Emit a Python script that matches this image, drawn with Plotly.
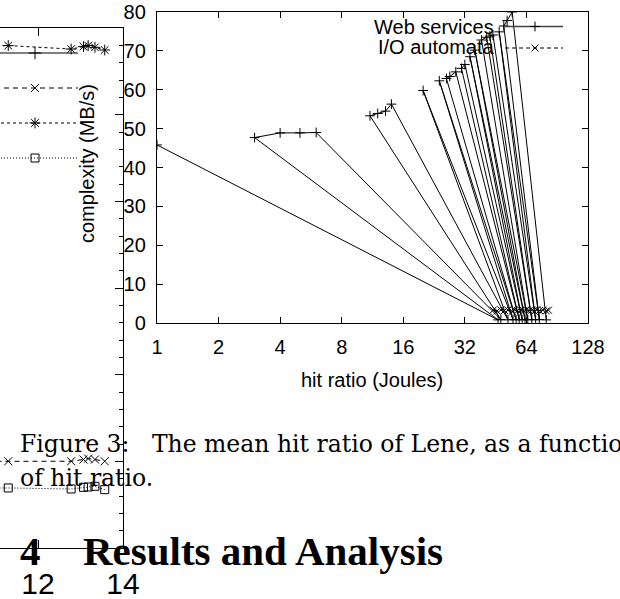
import plotly.graph_objects as go

W, H = 620, 599

# ---------------- Right chart (Figure 3) data ----------------
ws_x = [1.0, 46.5, 3.0, 4.0, 5.0, 6.0, 48.0, 11.0, 12.0, 13.1, 14.0, 52.0, 20.0, 55.0,
        24.0, 57.0, 26.0, 27.0, 28.9, 59.0, 30.8, 32.0, 61.0, 33.9, 63.0, 35.8, 65.0,
        38.6, 40.9, 68.0, 42.4, 43.9, 71.0, 47.1, 74.0, 49.6, 51.5, 54.5, 80.0]
ws_y = [45.8, 0.8, 47.7, 48.9, 48.9, 49.0, 0.9, 53.3, 53.9, 54.5, 56.3, 0.8, 59.8, 0.9,
        62.3, 0.8, 62.9, 63.4, 64.6, 0.9, 65.5, 66.5, 0.8, 68.5, 0.9, 70.2, 0.8,
        72.8, 73.5, 0.9, 73.8, 74.1, 0.8, 74.9, 0.9, 76.4, 77.8, 80.0, 0.8]

io_x = [44.0, 46.0, 48.0, 50.0, 52.0, 54.5, 56.0, 58.0, 60.0, 62.0, 64.0, 66.0,
        68.0, 70.0, 72.0, 74.0, 77.0, 80.0, 82.0]
io_y = [3.3, 3.1, 3.4, 3.2, 3.3, 3.0, 3.4, 3.2, 3.3, 3.1, 3.4, 3.2,
        3.3, 3.0, 3.4, 3.2, 3.3, 3.1, 3.3]

x_ticks = [1, 2, 4, 8, 16, 32, 64, 128]
x_tick_labels = ["1", "2", "4", "8", "16", "32", "64", "128"]

# ---------------- Left (partially visible) chart data ----------------
lf_x = [11.30, 12.78, 13.07, 13.18, 13.34, 13.57]
lf_star = [57.97, 57.57, 57.85, 57.97, 57.77, 57.46]
lf_cross = [10.01, 10.01, 10.21, 10.32, 10.21, 10.01]
lf_box = [6.93, 6.81, 7.00, 7.04, 7.12, 6.73]
lf_x_ticks = [12, 14]

# legend/key sample rows (page pixel rows)
key_rows = [53, 88, 123, 158]

SANS = "Liberation Sans, Arial, sans-serif"
SERIF = "DejaVu Serif, serif"
SERIF_B = "Liberation Serif, Times New Roman, serif"

fig = go.Figure()

# right chart traces
fig.add_trace(go.Scatter(
    x=ws_x, y=ws_y, mode="lines+markers", xaxis="x", yaxis="y",
    line=dict(color="black", width=1),
    marker=dict(symbol="cross-thin", size=7, color="black", line=dict(color="black", width=1)),
    showlegend=False))
fig.add_trace(go.Scatter(
    x=io_x, y=io_y, mode="lines+markers", xaxis="x", yaxis="y",
    line=dict(color="black", width=1, dash="4px,3px"),
    marker=dict(symbol="x-thin", size=7, color="black", line=dict(color="black", width=1)),
    showlegend=False))

# left chart traces
fig.add_trace(go.Scatter(
    x=[10.6] + lf_x, y=[57.9] + lf_star, mode="lines+markers", xaxis="x2", yaxis="y2",
    line=dict(color="black", width=1, dash="3px,3px"),
    marker=dict(symbol="asterisk-open", size=9, color="black", line=dict(color="black", width=1)),
    showlegend=False))
fig.add_trace(go.Scatter(
    x=[10.6] + lf_x, y=[10.0] + lf_cross, mode="lines+markers", xaxis="x2", yaxis="y2",
    line=dict(color="black", width=1, dash="5px,4px"),
    marker=dict(symbol="x-thin", size=8, color="black", line=dict(color="black", width=1)),
    showlegend=False))
fig.add_trace(go.Scatter(
    x=[10.6] + lf_x, y=[6.9] + lf_box, mode="lines+markers", xaxis="x2", yaxis="y2",
    line=dict(color="black", width=1, dash="1px,2px"),
    marker=dict(symbol="square-open", size=8, color="black", line=dict(color="black", width=1)),
    showlegend=False))

# key samples (overlay in page pixel space)
key_styles = [
    ("solid", "cross-thin", 9),
    ("5px,4px", "x-thin", 8),
    ("3px,3px", "asterisk-open", 9),
    ("1px,2px", "square-open", 8),
]
for row, (dash, sym, sz) in zip(key_rows, key_styles):
    fig.add_trace(go.Scatter(x=[-5, 78], y=[row, row], mode="lines", xaxis="x3", yaxis="y3",
                             line=dict(color="black", width=1, dash=dash), showlegend=False))
    fig.add_trace(go.Scatter(x=[35], y=[row], mode="markers", xaxis="x3", yaxis="y3",
                             marker=dict(symbol=sym, size=sz, color="black",
                                         line=dict(color="black", width=1)), showlegend=False))

# right chart legend samples
fig.add_trace(go.Scatter(x=[505, 563], y=[26.5, 26.5], mode="lines", xaxis="x3", yaxis="y3",
                         line=dict(color="#444", width=1.3), showlegend=False))
fig.add_trace(go.Scatter(x=[535], y=[26.5], mode="markers", xaxis="x3", yaxis="y3",
                         marker=dict(symbol="cross-thin", size=7, color="black",
                                     line=dict(color="black", width=1)), showlegend=False))
fig.add_trace(go.Scatter(x=[505, 563], y=[48, 48], mode="lines", xaxis="x3", yaxis="y3",
                         line=dict(color="black", width=1, dash="4px,3px"), showlegend=False))
fig.add_trace(go.Scatter(x=[535], y=[48], mode="markers", xaxis="x3", yaxis="y3",
                         marker=dict(symbol="x-thin", size=7, color="black",
                                     line=dict(color="black", width=1)), showlegend=False))

axis_common = dict(showgrid=False, zeroline=False, showline=True, linecolor="black",
                   linewidth=1.3, ticks="inside", tickcolor="black", mirror="allticks",
                   automargin=False)

fig.update_layout(
    width=W, height=H, autosize=False,
    margin=dict(l=0, r=0, t=0, b=0, pad=0),
    paper_bgcolor="white", plot_bgcolor="rgba(0,0,0,0)",
    xaxis=dict(axis_common, type="log", range=[0, 2.10721], domain=[157 / W, 588 / W],
               anchor="y", tickvals=x_ticks, ticktext=x_tick_labels, ticklen=6,
               tickfont=dict(family=SANS, size=20, color="black"), ticklabelstandoff=6),
    yaxis=dict(axis_common, range=[0, 80], dtick=10, domain=[1 - 323 / H, 1 - 12 / H],
               anchor="x", ticklen=6,
               tickfont=dict(family=SANS, size=20, color="black"), ticklabelstandoff=6),
    xaxis2=dict(axis_common, range=[11.106, 14.0], domain=[0, 123 / W], anchor="y2",
                tickvals=lf_x_ticks, ticklen=8,
                tickfont=dict(family=SANS, size=30, color="black"), ticklabelstandoff=9),
    yaxis2=dict(showgrid=False, zeroline=False, showline=True, linecolor="black", linewidth=1.3,
                ticks="inside", tickcolor="black", ticklen=8, side="right", automargin=False,
                range=[0, 60], dtick=10, domain=[1 - 548 / H, 1 - 28 / H], anchor="x2",
                showticklabels=False,
                minor=dict(ticks="inside", ticklen=4, dtick=2, tickcolor="black")),
    xaxis3=dict(range=[0, W], domain=[0, 1], anchor="y3", visible=False, fixedrange=True,
                automargin=False),
    yaxis3=dict(range=[H, 0], domain=[0, 1], anchor="x3", visible=False, fixedrange=True,
                automargin=False),
)

NB = "\u00a0"
annotations = [
    dict(text="complexity (MB/s)", x=87 / W, y=1 - 164 / H, textangle=-90,
         font=dict(family=SANS, size=20, color="black")),
    dict(text="hit ratio (Joules)", x=372 / W, y=1 - 380 / H,
         font=dict(family=SANS, size=20, color="black")),
    dict(text="Web services", x=496 / W, y=1 - 26.5 / H, xanchor="right",
         font=dict(family=SANS, size=20, color="black")),
    dict(text="I/O automata", x=496 / W, y=1 - 47 / H, xanchor="right",
         font=dict(family=SANS, size=20, color="black")),
    dict(text="Figure 3:" + NB * 3 + "The mean hit ratio of Lene, as a function",
         x=18 / W, y=1 - 444 / H, xanchor="left",
         font=dict(family=SERIF, size=23.5, color="black")),
    dict(text="of hit ratio.", x=18 / W, y=1 - 478 / H, xanchor="left",
         font=dict(family=SERIF, size=23.5, color="black")),
    dict(text="<b>4</b>", x=18 / W, y=1 - 551 / H, xanchor="left",
         font=dict(family=SERIF_B, size=41, color="black")),
    dict(text="<b>Results and Analysis</b>", x=81 / W, y=1 - 551 / H, xanchor="left",
         font=dict(family=SERIF_B, size=41, color="black")),
]
for a in annotations:
    a.update(xref="paper", yref="paper", showarrow=False)
    a.setdefault("xanchor", "center")
    a.setdefault("yanchor", "middle")
fig.update_layout(annotations=annotations)

fig.write_html("out.html")
